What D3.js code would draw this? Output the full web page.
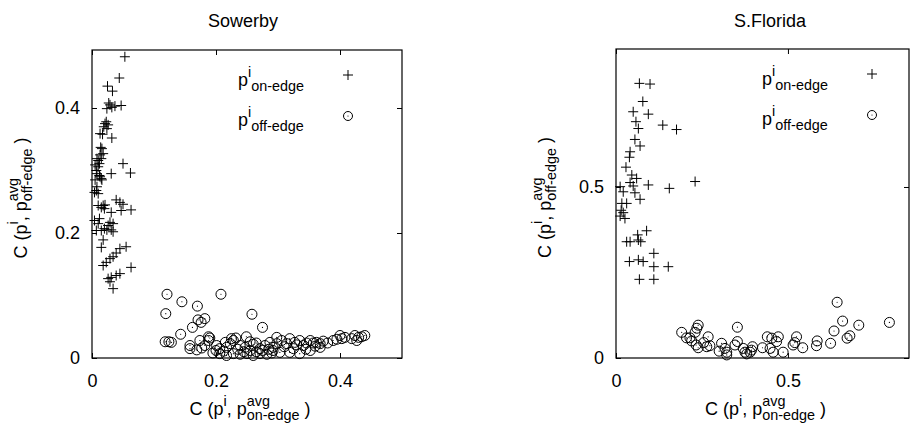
<!DOCTYPE html>
<html>
<head>
<meta charset="utf-8">
<script src="https://cdn.jsdelivr.net/npm/d3@7"></script>
<style>
  html, body { margin: 0; padding: 0; background: #fff; }
  svg text { font-family: "Liberation Sans", Arial, Helvetica, sans-serif; fill: #000; white-space: pre; }
</style>
</head>
<body>
<svg id="chart" width="917" height="427"></svg>
<script>
// ---------------- DATA ----------------
const titles = ["Sowerby", "S.Florida"];
const seriesNames = ["on-edge", "off-edge"];

const sowerbyXTicks = [0, 0.2, 0.4];
const sowerbyYTicks = [0, 0.2, 0.4];
const floridaXTicks = [0, 0.5];
const floridaYTicks = [0, 0.5];

const sowerbyOnEdge = [
  [0.053,0.482],[0.044,0.448],[0.025,0.435],[0.033,0.427],[0.047,0.404],[0.029,0.405],[0.024,0.399],
  [0.032,0.401],[0.037,0.403],[0.027,0.408],[0.023,0.378],[0.026,0.373],[0.019,0.370],[0.024,0.367],
  [0.021,0.375],[0.017,0.358],[0.032,0.352],[0.013,0.359],[0.014,0.337],[0.018,0.327],[0.015,0.319],
  [0.010,0.316],[0.012,0.311],[0.050,0.311],[0.062,0.296],[0.031,0.295],[0.007,0.300],[0.012,0.292],
  [0.015,0.287],[0.005,0.309],[0.010,0.306],[0.008,0.295],[0.013,0.290],[0.005,0.285],[0.016,0.285],
  [0.008,0.274],[0.007,0.268],[0.010,0.263],[0.004,0.265],[0.039,0.253],[0.045,0.249],[0.018,0.244],
  [0.015,0.241],[0.020,0.239],[0.010,0.244],[0.063,0.237],[0.047,0.236],[0.031,0.233],[0.050,0.246],
  [0.021,0.245],[0.012,0.223],[0.004,0.220],[0.010,0.215],[0.029,0.217],[0.026,0.212],[0.034,0.215],
  [0.020,0.207],[0.015,0.204],[0.007,0.204],[0.031,0.205],[0.034,0.202],[0.024,0.205],[0.018,0.189],
  [0.015,0.177],[0.055,0.178],[0.045,0.175],[0.039,0.168],[0.034,0.162],[0.029,0.159],[0.023,0.153],
  [0.018,0.148],[0.063,0.145],[0.045,0.135],[0.039,0.132],[0.031,0.129],[0.026,0.127],[0.029,0.122],
  [0.034,0.111],[0.016,0.335],[0.008,0.319],[0.013,0.325]
];

const sowerbyOffEdge = [
  [0.121,0.102],[0.145,0.090],[0.208,0.102],[0.170,0.083],[0.119,0.071],[0.258,0.070],[0.182,0.063],
  [0.171,0.061],[0.176,0.057],[0.162,0.049],[0.275,0.049],[0.143,0.038],[0.188,0.034],[0.249,0.034],
  [0.118,0.026],[0.124,0.026],[0.128,0.025],[0.158,0.015],[0.174,0.028],[0.225,0.031],
  [0.158,0.020],[0.169,0.013],[0.177,0.016],[0.182,0.020],[0.188,0.028],[0.190,0.032],
  [0.201,0.020],[0.206,0.015],[0.212,0.011],[0.217,0.017],[0.223,0.023],[0.228,0.028],[0.232,0.032],
  [0.239,0.020],[0.247,0.017],[0.255,0.012],[0.260,0.022],[0.265,0.024],[0.271,0.015],[0.279,0.020],
  [0.287,0.025],[0.292,0.017],[0.298,0.023],
  [0.206,0.007],[0.217,0.004],[0.228,0.007],[0.239,0.006],[0.250,0.007],[0.260,0.004],[0.271,0.007],
  [0.282,0.006],[0.195,0.008],[0.200,0.012],[0.215,0.025],[0.235,0.014],[0.245,0.010],[0.255,0.026],
  [0.265,0.010],[0.275,0.012],[0.285,0.014],[0.290,0.008],
  [0.298,0.033],[0.306,0.028],[0.314,0.023],[0.319,0.031],[0.327,0.025],[0.335,0.028],[0.341,0.020],
  [0.346,0.024],[0.352,0.028],[0.357,0.024],[0.362,0.025],[0.368,0.023],[0.373,0.027],
  [0.389,0.028],[0.400,0.036],[0.403,0.031],[0.408,0.033],[0.419,0.031],[0.424,0.036],[0.430,0.033],
  [0.435,0.034],[0.440,0.036],[0.427,0.028],
  [0.292,0.012],[0.303,0.009],[0.319,0.009],[0.335,0.007],[0.352,0.012],[0.368,0.017],
  [0.310,0.018],[0.325,0.015],[0.330,0.021],[0.345,0.014],[0.360,0.019],[0.380,0.024],[0.395,0.030]
];

const floridaOnEdge = [
  [0.068,0.803],[0.099,0.801],[0.078,0.750],[0.050,0.720],[0.094,0.713],[0.058,0.691],[0.065,0.671],
  [0.136,0.681],[0.176,0.668],[0.055,0.639],[0.070,0.620],[0.041,0.603],[0.039,0.587],[0.029,0.558],
  [0.046,0.535],[0.041,0.513],[0.050,0.503],[0.094,0.506],[0.155,0.496],[0.230,0.516],[0.012,0.501],
  [0.021,0.486],[0.055,0.483],[0.070,0.464],[0.017,0.452],[0.031,0.452],[0.021,0.425],[0.012,0.415],
  [0.026,0.408],[0.089,0.372],[0.031,0.340],[0.041,0.340],[0.065,0.345],[0.072,0.340],[0.063,0.360],
  [0.110,0.306],[0.039,0.282],[0.065,0.287],[0.079,0.282],[0.110,0.267],[0.152,0.267],[0.068,0.230],
  [0.110,0.230],[0.060,0.525],[0.015,0.432]
];

const floridaOffEdge = [
  [0.643,0.163],[0.795,0.104],[0.659,0.108],[0.706,0.096],[0.634,0.079],[0.680,0.065],[0.672,0.058],
  [0.624,0.043],[0.585,0.050],[0.583,0.036],[0.543,0.030],[0.525,0.062],[0.515,0.038],[0.486,0.017],
  [0.472,0.062],[0.440,0.062],[0.453,0.058],[0.467,0.048],[0.448,0.028],[0.457,0.017],[0.426,0.030],
  [0.397,0.033],[0.394,0.023],[0.390,0.017],[0.370,0.028],[0.375,0.017],[0.353,0.090],[0.353,0.048],
  [0.346,0.038],[0.317,0.028],[0.322,0.017],[0.322,0.009],[0.307,0.043],[0.268,0.062],[0.273,0.036],
  [0.264,0.033],[0.239,0.096],[0.235,0.087],[0.230,0.075],[0.233,0.038],[0.239,0.030],[0.215,0.059],
  [0.191,0.075],[0.205,0.059],[0.520,0.045],[0.380,0.012],[0.300,0.020],[0.255,0.045],[0.220,0.050]
];

// ---------------- LAYOUT ----------------
const svg = d3.select("#chart");
const FS = 18;

const panels = [
  { title: titles[0], on: sowerbyOnEdge, off: sowerbyOffEdge, xt: sowerbyXTicks, yt: sowerbyYTicks,
    L: 92, R: 402, T: 50, B: 358, xMax: 0.5, yMax: 0.4928, titleX: 243 },
  { title: titles[1], on: floridaOnEdge, off: floridaOffEdge, xt: floridaXTicks, yt: floridaYTicks,
    L: 616, R: 909, T: 49, B: 358, xMax: 0.852, yMax: 0.9035, titleX: 770 }
];

function rich(parent, parts, fs) {
  const g = parent.append("g");
  let x = 0;
  parts.forEach(p => {
    if (p.t !== undefined) {
      const t = g.append("text").attr("x", x).attr("y", 0).style("font-size", fs + "px").text(p.t);
      x += t.node().getComputedTextLength();
    } else {
      let w = 0;
      const ws = [];
      if (p.sup) {
        const t = g.append("text").attr("x", x).attr("y", -0.5 * fs).style("font-size", 0.8 * fs + "px").text(p.sup);
        ws.push(t.node().getComputedTextLength());
      }
      if (p.sub) {
        const sx = p.stack ? x : x + (ws[0] || 0);
        const t = g.append("text").attr("x", sx).attr("y", 0.3 * fs).style("font-size", 0.8 * fs + "px").text(p.sub);
        ws.push(t.node().getComputedTextLength());
      }
      x += p.stack ? d3.max(ws) : d3.sum(ws);
    }
  });
  return { g, width: x };
}

function plus(sel) {
  sel.append("path").attr("d", "M-5,0H5M0,-5V5").attr("stroke", "#000").attr("stroke-width", 1).attr("fill", "none");
}
function ring(sel, r) {
  sel.append("circle").attr("r", r).attr("fill", "none").attr("stroke", "#000").attr("stroke-width", 1);
  sel.append("circle").attr("r", 0.6).attr("fill", "#000");
}

panels.forEach(P => {
  const x = d3.scaleLinear().domain([0, P.xMax]).range([P.L, P.R]);
  const y = d3.scaleLinear().domain([0, P.yMax]).range([P.B, P.T]);

  // title
  svg.append("text").attr("x", P.titleX).attr("y", 27).attr("text-anchor", "middle")
    .style("font-size", FS + "px").text(P.title);

  // axes (ticks inside, mirrored)
  const fmt = d => d === 0 ? "0" : d3.format("")(d);
  const ax = [
    svg.append("g").attr("transform", `translate(0,${P.B})`)
      .call(d3.axisBottom(x).tickValues(P.xt).tickFormat(fmt).tickSize(-5).tickSizeOuter(0).tickPadding(16)),
    svg.append("g").attr("transform", `translate(0,${P.T})`)
      .call(d3.axisTop(x).tickValues(P.xt).tickFormat("").tickSize(-5).tickSizeOuter(0)),
    svg.append("g").attr("transform", `translate(${P.L},0)`)
      .call(d3.axisLeft(y).tickValues(P.yt).tickFormat(fmt).tickSize(-5).tickSizeOuter(0).tickPadding(12)),
    svg.append("g").attr("transform", `translate(${P.R},0)`)
      .call(d3.axisRight(y).tickValues(P.yt).tickFormat("").tickSize(-5).tickSizeOuter(0))
  ];
  ax.forEach(a => {
    a.select(".domain").remove();
    a.selectAll("line").attr("stroke", "#000");
    a.selectAll("text").style("font-size", FS + "px").attr("fill", "#000")
      .style("font-family", '"Liberation Sans", Arial, Helvetica, sans-serif');
  });

  // frame
  svg.append("rect").attr("x", P.L).attr("y", P.T).attr("width", P.R - P.L).attr("height", P.B - P.T)
    .attr("fill", "none").attr("stroke", "#000").attr("stroke-width", 1.2);

  // points
  const gOn = svg.append("g");
  P.on.forEach(d => {
    const s = gOn.append("g").attr("transform", `translate(${x(d[0])},${y(d[1])})`);
    plus(s);
  });
  const gOff = svg.append("g");
  P.off.forEach(d => {
    const s = gOff.append("g").attr("transform", `translate(${x(d[0])},${y(d[1])})`);
    ring(s, 5);
  });

  // legend
  const lx = P.L + 146;
  const r1 = rich(svg, [{ t: "p" }, { sup: "i" }, { sub: seriesNames[0] }], FS);
  r1.g.attr("transform", `translate(${lx},${P.T + 36})`);
  plus(svg.append("g").attr("transform", `translate(${P.L + 256},${P.T + 25})`));
  const r2 = rich(svg, [{ t: "p" }, { sup: "i" }, { sub: seriesNames[1] }], FS);
  r2.g.attr("transform", `translate(${lx},${P.T + 76})`);
  ring(svg.append("g").attr("transform", `translate(${P.L + 256},${P.T + 66})`), 4.5);

  // x label
  const xl = rich(svg, [{ t: "C (p" }, { sup: "i" }, { t: ", p" }, { sup: "avg", sub: "on-edge", stack: true }, { t: " )" }], FS);
  const cx = (P.L + P.R) / 2 + 3;
  xl.g.attr("transform", `translate(${cx - xl.width / 2},415)`);

  // y label
  const yl = rich(svg, [{ t: "C (p" }, { sup: "i" }, { t: ", p" }, { sup: "avg", sub: "off-edge", stack: true }, { t: " )" }], FS);
  const cy = (P.T + P.B) / 2 - 6;
  yl.g.attr("transform", `translate(${P.L - 65},${cy + yl.width / 2}) rotate(-90)`);
});
</script>
</body>
</html>
